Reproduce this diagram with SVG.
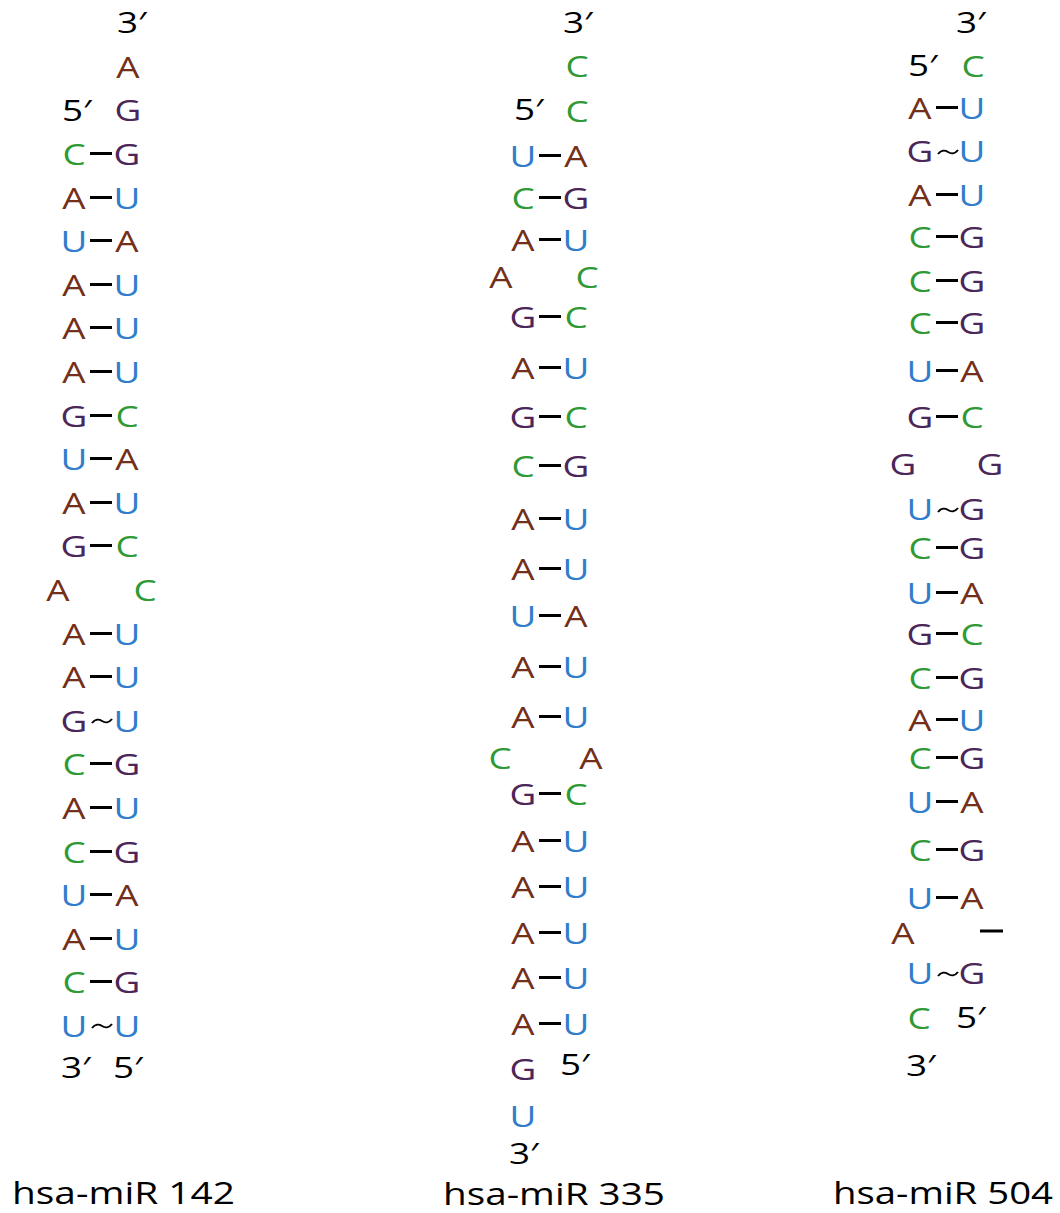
<svg xmlns="http://www.w3.org/2000/svg" xmlns:xlink="http://www.w3.org/1999/xlink" width="1060" height="1213" viewBox="0 0 1060 1213">
<style>
text{font-family:"Open Sans","Noto Sans","DejaVu Sans",sans-serif;font-size:29px;text-anchor:middle;transform-box:fill-box;transform-origin:center;transform:scaleX(1.27);}
.A{fill:#732f1a}.G{fill:#4b2659}.U{fill:#2f7dcb}.C{fill:#2f9a35}.p{fill:#000}
text.lab{font-size:31.5px;text-anchor:start;transform:none;fill:#000}
.bond line{stroke:#000;stroke-width:3}
.bond use{stroke:#000;stroke-width:2;fill:none}
</style>
<defs><path id="tl" d="M1,2 C4,-2 8,-2 11,0 S18,2 21,-2"/></defs>
<rect width="1060" height="1213" fill="#fff"/>
<g id="miR142">
<text class="p" x="132" y="33">3′</text>
<text class="A" x="128" y="78">A</text>
<text class="p" x="77" y="121">5′</text><text class="G" x="128" y="121">G</text>
<text class="C" x="74" y="165">C</text><text class="G" x="127" y="165">G</text>
<text class="A" x="74" y="209">A</text><text class="U" x="127" y="209">U</text>
<text class="U" x="74" y="252">U</text><text class="A" x="127" y="252">A</text>
<text class="A" x="74" y="296">A</text><text class="U" x="127" y="296">U</text>
<text class="A" x="74" y="339">A</text><text class="U" x="127" y="339">U</text>
<text class="A" x="74" y="383">A</text><text class="U" x="127" y="383">U</text>
<text class="G" x="74" y="427">G</text><text class="C" x="127" y="427">C</text>
<text class="U" x="74" y="470">U</text><text class="A" x="127" y="470">A</text>
<text class="A" x="74" y="514">A</text><text class="U" x="127" y="514">U</text>
<text class="G" x="74" y="557">G</text><text class="C" x="127" y="557">C</text>
<text class="A" x="58" y="601">A</text><text class="C" x="145" y="601">C</text>
<text class="A" x="74" y="645">A</text><text class="U" x="127" y="645">U</text>
<text class="A" x="74" y="688">A</text><text class="U" x="127" y="688">U</text>
<text class="G" x="74" y="732">G</text><text class="U" x="127" y="732">U</text>
<text class="C" x="74" y="775">C</text><text class="G" x="127" y="775">G</text>
<text class="A" x="74" y="819">A</text><text class="U" x="127" y="819">U</text>
<text class="C" x="74" y="863">C</text><text class="G" x="127" y="863">G</text>
<text class="U" x="74" y="906">U</text><text class="A" x="127" y="906">A</text>
<text class="A" x="74" y="950">A</text><text class="U" x="127" y="950">U</text>
<text class="C" x="74" y="993">C</text><text class="G" x="127" y="993">G</text>
<text class="U" x="74" y="1037">U</text><text class="U" x="127" y="1037">U</text>
<text class="p" x="76" y="1078">3′</text><text class="p" x="128" y="1078">5′</text>
<text class="lab" x="12" y="1204" textLength="223" lengthAdjust="spacingAndGlyphs">hsa-miR 142</text>
</g>
<g id="miR335">
<text class="p" x="578" y="33">3′</text>
<text class="C" x="577" y="77">C</text>
<text class="p" x="529" y="120">5′</text><text class="C" x="577" y="122">C</text>
<text class="U" x="523" y="167">U</text><text class="A" x="576" y="167">A</text>
<text class="C" x="523" y="209">C</text><text class="G" x="576" y="209">G</text>
<text class="A" x="523" y="251">A</text><text class="U" x="576" y="251">U</text>
<text class="A" x="501" y="288">A</text><text class="C" x="587" y="288">C</text>
<text class="G" x="523" y="328">G</text><text class="C" x="576" y="328">C</text>
<text class="A" x="523" y="379">A</text><text class="U" x="576" y="379">U</text>
<text class="G" x="523" y="428">G</text><text class="C" x="576" y="428">C</text>
<text class="C" x="523" y="477">C</text><text class="G" x="576" y="477">G</text>
<text class="A" x="523" y="530">A</text><text class="U" x="576" y="530">U</text>
<text class="A" x="523" y="580">A</text><text class="U" x="576" y="580">U</text>
<text class="U" x="523" y="627">U</text><text class="A" x="576" y="627">A</text>
<text class="A" x="523" y="678">A</text><text class="U" x="576" y="678">U</text>
<text class="A" x="523" y="728">A</text><text class="U" x="576" y="728">U</text>
<text class="C" x="500" y="769">C</text><text class="A" x="591" y="769">A</text>
<text class="G" x="523" y="805">G</text><text class="C" x="576" y="805">C</text>
<text class="A" x="523" y="852">A</text><text class="U" x="576" y="852">U</text>
<text class="A" x="523" y="898">A</text><text class="U" x="576" y="898">U</text>
<text class="A" x="523" y="944">A</text><text class="U" x="576" y="944">U</text>
<text class="A" x="523" y="989">A</text><text class="U" x="576" y="989">U</text>
<text class="A" x="523" y="1035">A</text><text class="U" x="576" y="1035">U</text>
<text class="G" x="523" y="1080">G</text><text class="p" x="575" y="1075">5′</text>
<text class="U" x="523" y="1127">U</text>
<text class="p" x="524" y="1164">3′</text>
<text class="lab" x="443" y="1205" textLength="222" lengthAdjust="spacingAndGlyphs">hsa-miR 335</text>
</g>
<g id="miR504">
<text class="p" x="971" y="33">3′</text>
<text class="p" x="923" y="76">5′</text><text class="C" x="973" y="77">C</text>
<text class="A" x="920" y="119">A</text><text class="U" x="972" y="119">U</text>
<text class="G" x="920" y="162">G</text><text class="U" x="972" y="162">U</text>
<text class="A" x="920" y="206">A</text><text class="U" x="972" y="206">U</text>
<text class="C" x="920" y="248">C</text><text class="G" x="972" y="248">G</text>
<text class="C" x="920" y="292">C</text><text class="G" x="972" y="292">G</text>
<text class="C" x="920" y="334">C</text><text class="G" x="972" y="334">G</text>
<text class="U" x="920" y="382">U</text><text class="A" x="972" y="382">A</text>
<text class="G" x="920" y="428">G</text><text class="C" x="972" y="428">C</text>
<text class="G" x="903" y="475">G</text><text class="G" x="990" y="475">G</text>
<text class="U" x="920" y="520">U</text><text class="G" x="972" y="520">G</text>
<text class="C" x="920" y="559">C</text><text class="G" x="972" y="559">G</text>
<text class="U" x="920" y="604">U</text><text class="A" x="972" y="604">A</text>
<text class="G" x="920" y="645">G</text><text class="C" x="972" y="645">C</text>
<text class="C" x="920" y="689">C</text><text class="G" x="972" y="689">G</text>
<text class="A" x="920" y="731">A</text><text class="U" x="972" y="731">U</text>
<text class="C" x="920" y="769">C</text><text class="G" x="972" y="769">G</text>
<text class="U" x="920" y="813">U</text><text class="A" x="972" y="813">A</text>
<text class="C" x="920" y="861">C</text><text class="G" x="972" y="861">G</text>
<text class="U" x="920" y="909">U</text><text class="A" x="972" y="909">A</text>
<text class="A" x="903" y="944">A</text>
<text class="U" x="920" y="984">U</text><text class="G" x="972" y="984">G</text>
<text class="C" x="919" y="1029">C</text><text class="p" x="971" y="1028">5′</text>
<text class="p" x="921" y="1076">3′</text>
<text class="lab" x="833" y="1204" textLength="220" lengthAdjust="spacingAndGlyphs">hsa-miR 504</text>
</g>
<g id="connectors" class="bond">
<line x1="90" y1="153.5" x2="112" y2="153.5"/>
<line x1="90" y1="197.5" x2="112" y2="197.5"/>
<line x1="90" y1="240.5" x2="112" y2="240.5"/>
<line x1="90" y1="284.5" x2="112" y2="284.5"/>
<line x1="90" y1="327.5" x2="112" y2="327.5"/>
<line x1="90" y1="371.5" x2="112" y2="371.5"/>
<line x1="90" y1="415.5" x2="112" y2="415.5"/>
<line x1="90" y1="458.5" x2="112" y2="458.5"/>
<line x1="90" y1="502.5" x2="112" y2="502.5"/>
<line x1="90" y1="545.5" x2="112" y2="545.5"/>
<line x1="90" y1="633.5" x2="112" y2="633.5"/>
<line x1="90" y1="676.5" x2="112" y2="676.5"/>
<use xlink:href="#tl" transform="translate(91,721)"/>
<line x1="90" y1="763.5" x2="112" y2="763.5"/>
<line x1="90" y1="807.5" x2="112" y2="807.5"/>
<line x1="90" y1="851.5" x2="112" y2="851.5"/>
<line x1="90" y1="894.5" x2="112" y2="894.5"/>
<line x1="90" y1="938.5" x2="112" y2="938.5"/>
<line x1="90" y1="981.5" x2="112" y2="981.5"/>
<use xlink:href="#tl" transform="translate(91,1026)"/>
<line x1="539" y1="155.5" x2="561" y2="155.5"/>
<line x1="539" y1="197.5" x2="561" y2="197.5"/>
<line x1="539" y1="239.5" x2="561" y2="239.5"/>
<line x1="539" y1="316.5" x2="561" y2="316.5"/>
<line x1="539" y1="367.5" x2="561" y2="367.5"/>
<line x1="539" y1="416.5" x2="561" y2="416.5"/>
<line x1="539" y1="465.5" x2="561" y2="465.5"/>
<line x1="539" y1="518.5" x2="561" y2="518.5"/>
<line x1="539" y1="568.5" x2="561" y2="568.5"/>
<line x1="539" y1="615.5" x2="561" y2="615.5"/>
<line x1="539" y1="666.5" x2="561" y2="666.5"/>
<line x1="539" y1="716.5" x2="561" y2="716.5"/>
<line x1="539" y1="793.5" x2="561" y2="793.5"/>
<line x1="539" y1="840.5" x2="561" y2="840.5"/>
<line x1="539" y1="886.5" x2="561" y2="886.5"/>
<line x1="539" y1="932.5" x2="561" y2="932.5"/>
<line x1="539" y1="977.5" x2="561" y2="977.5"/>
<line x1="539" y1="1023.5" x2="561" y2="1023.5"/>
<line x1="936" y1="107.5" x2="958" y2="107.5"/>
<use xlink:href="#tl" transform="translate(937,152)"/>
<line x1="936" y1="194.5" x2="958" y2="194.5"/>
<line x1="936" y1="236.5" x2="958" y2="236.5"/>
<line x1="936" y1="280.5" x2="958" y2="280.5"/>
<line x1="936" y1="322.5" x2="958" y2="322.5"/>
<line x1="936" y1="370.5" x2="958" y2="370.5"/>
<line x1="936" y1="416.5" x2="958" y2="416.5"/>
<use xlink:href="#tl" transform="translate(937,510)"/>
<line x1="936" y1="547.5" x2="958" y2="547.5"/>
<line x1="936" y1="592.5" x2="958" y2="592.5"/>
<line x1="936" y1="633.5" x2="958" y2="633.5"/>
<line x1="936" y1="677.5" x2="958" y2="677.5"/>
<line x1="936" y1="719.5" x2="958" y2="719.5"/>
<line x1="936" y1="757.5" x2="958" y2="757.5"/>
<line x1="936" y1="801.5" x2="958" y2="801.5"/>
<line x1="936" y1="849.5" x2="958" y2="849.5"/>
<line x1="936" y1="897.5" x2="958" y2="897.5"/>
<line x1="980" y1="931" x2="1003" y2="931"/>
<use xlink:href="#tl" transform="translate(937,974)"/>
</g>
</svg>
